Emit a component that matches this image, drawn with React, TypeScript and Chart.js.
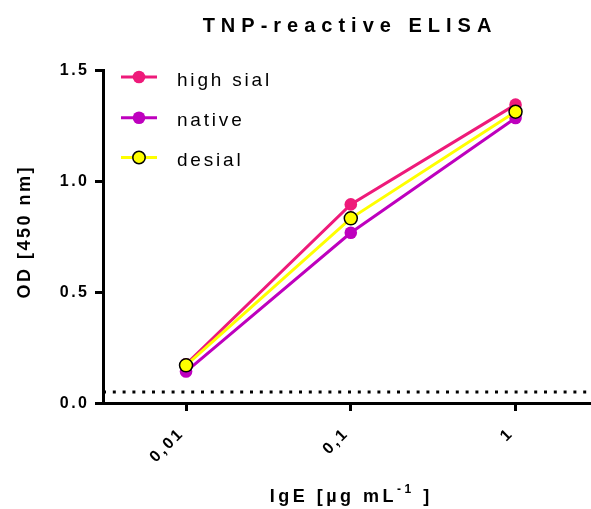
import React, { useEffect, useRef } from "react";
import { Chart, registerables } from "chart.js";

Chart.register(...registerables);

// IgE concentrations (µg/mL) and their axis labels
const X_VALUES = [0.01, 0.1, 1];
const X_TICK_LABELS = ["0,01", "0,1", "1"];

// OD ticks
const Y_TICKS = [0, 0.5, 1.0, 1.5];
const Y_TICK_LABELS = ["0.0", "0.5", "1.0", "1.5"];

// OD at 450 nm per preparation
const HIGH_SIAL = [0.175, 0.896, 1.346];
const NATIVE = [0.142, 0.768, 1.286];
const DESIAL = [0.17, 0.833, 1.314];

// background cut-off
const BASELINE = 0.05;

const X_MIN = Math.pow(10, -2.504);
const X_MAX = Math.pow(10, 0.458);

const PINK = "#EE1A7A";
const PURPLE = "#BE00BE";
const YELLOW = "#FFFF00";
const FONT = '"Liberation Sans", Arial, Helvetica, sans-serif';

function spaced(
  ctx: CanvasRenderingContext2D,
  text: string,
  x: number,
  y: number,
  align: "left" | "center" | "right",
  ls: number
) {
  (ctx as any).letterSpacing = ls + "px";
  const w = ctx.measureText(text).width - ls;
  const left = align === "center" ? x - w / 2 : align === "right" ? x - w : x;
  ctx.textAlign = "left";
  ctx.fillText(text, left, y);
  return w + ls;
}

const LEGEND = [
  { label: "high sial", color: PINK, fill: PINK, border: PINK, radius: 6.3, bw: 0 },
  { label: "native", color: PURPLE, fill: PURPLE, border: PURPLE, radius: 6.3, bw: 0 },
  { label: "desial", color: YELLOW, fill: YELLOW, border: "#000", radius: 6.2, bw: 1.5 },
];

const textLayer = {
  id: "textLayer",
  afterDraw(chart: any) {
    const ctx: CanvasRenderingContext2D = chart.ctx;
    const xs = chart.scales.x;
    const ys = chart.scales.y;
    const area = chart.chartArea;
    ctx.save();
    ctx.fillStyle = "#000";

    // title
    ctx.font = `bold 20px ${FONT}`;
    ctx.textBaseline = "alphabetic";
    spaced(ctx, "TNP-reactive ELISA", (area.left + area.right) / 2, 31.7, "center", 6);

    // y tick labels
    ctx.font = `bold 16px ${FONT}`;
    ctx.textBaseline = "middle";
    Y_TICKS.forEach((v, i) => {
      spaced(ctx, Y_TICK_LABELS[i], 87, ys.getPixelForValue(v) + 0.5, "right", 2.5);
    });

    // x tick labels, rotated
    X_VALUES.forEach((v, i) => {
      const px = xs.getPixelForValue(v);
      ctx.save();
      ctx.translate(px - 6, 432.5);
      ctx.rotate(-Math.PI / 4);
      spaced(ctx, X_TICK_LABELS[i], 0, 0, "right", 2.5);
      ctx.restore();
    });

    // y axis title
    ctx.save();
    ctx.font = `bold 18px ${FONT}`;
    ctx.translate(25, 233);
    ctx.rotate(-Math.PI / 2);
    ctx.textBaseline = "middle";
    spaced(ctx, "OD [450 nm]", 0, 0, "center", 2.5);
    ctx.restore();

    // x axis title with superscript
    ctx.textBaseline = "alphabetic";
    const big = `bold 18px ${FONT}`;
    const small = `bold 12px ${FONT}`;
    const ls = 3.5;
    (ctx as any).letterSpacing = ls + "px";
    ctx.font = big;
    const w1 = ctx.measureText("IgE [µg mL").width;
    const w3 = ctx.measureText(" ]").width - ls;
    ctx.font = small;
    const w2 = ctx.measureText("-1").width;
    let x0 = 349.5 - (w1 + w2 + w3) / 2;
    const base = 501.7;
    ctx.textAlign = "left";
    ctx.font = big;
    ctx.fillText("IgE [µg mL", x0, base);
    x0 += w1;
    ctx.font = small;
    ctx.fillText("-1", x0, base - 9);
    x0 += w2;
    ctx.font = big;
    ctx.fillText(" ]", x0, base);

    // legend
    const rows = [77, 117.8, 157.5];
    ctx.font = `19px ${FONT}`;
    LEGEND.forEach((item, i) => {
      const y = rows[i];
      ctx.strokeStyle = item.color;
      ctx.lineWidth = 3;
      ctx.beginPath();
      ctx.moveTo(121, y);
      ctx.lineTo(157, y);
      ctx.stroke();
      ctx.beginPath();
      ctx.arc(139, y, item.radius, 0, Math.PI * 2);
      ctx.fillStyle = item.fill;
      ctx.fill();
      if (item.bw > 0) {
        ctx.lineWidth = item.bw;
        ctx.strokeStyle = item.border;
        ctx.stroke();
      }
      ctx.fillStyle = "#000";
      ctx.textBaseline = "alphabetic";
      spaced(ctx, item.label, 177, y + 8.5, "left", 2.8);
    });

    ctx.restore();
  },
};

const zeroPadding = (scale: any) => {
  scale.paddingLeft = 0;
  scale.paddingRight = 0;
  scale.paddingTop = 0;
  scale.paddingBottom = 0;
};

export default function App() {
  const ref = useRef<HTMLCanvasElement | null>(null);

  useEffect(() => {
    if (!ref.current) return;
    const toXY = (ys: number[]) => X_VALUES.map((x, i) => ({ x, y: ys[i] }));

    const chart = new Chart(ref.current, {
      type: "line",
      data: {
        datasets: [
          {
            label: "high sial",
            data: toXY(HIGH_SIAL),
            borderColor: PINK,
            backgroundColor: PINK,
            pointBackgroundColor: PINK,
            pointBorderColor: PINK,
            pointBorderWidth: 0,
            pointRadius: 6.3,
            borderWidth: 3,
            tension: 0,
            order: 3,
          },
          {
            label: "native",
            data: toXY(NATIVE),
            borderColor: PURPLE,
            backgroundColor: PURPLE,
            pointBackgroundColor: PURPLE,
            pointBorderColor: PURPLE,
            pointBorderWidth: 0,
            pointRadius: 6.3,
            borderWidth: 3,
            tension: 0,
            order: 2,
          },
          {
            label: "desial",
            data: toXY(DESIAL),
            borderColor: YELLOW,
            backgroundColor: YELLOW,
            pointBackgroundColor: YELLOW,
            pointBorderColor: "#000",
            pointBorderWidth: 1.5,
            pointRadius: 6.5,
            borderWidth: 3,
            tension: 0,
            order: 1,
          },
          {
            label: "cut-off",
            data: [
              { x: X_MIN, y: BASELINE },
              { x: X_MAX, y: BASELINE },
            ],
            borderColor: "#000",
            borderWidth: 3,
            borderDash: [3, 6.8],
            pointRadius: 0,
            order: 4,
          },
        ],
      },
      options: {
        responsive: false,
        animation: false,
        events: [],
        layout: { autoPadding: false, padding: { top: 70.5, right: 0, left: 0, bottom: 0 } },
        plugins: {
          legend: { display: false },
          title: { display: false },
          tooltip: { enabled: false },
        },
        scales: {
          x: {
            type: "logarithmic",
            min: X_MIN,
            max: X_MAX,
            afterBuildTicks: (scale: any) => {
              scale.ticks = X_VALUES.map((value) => ({ value }));
            },
            afterFit: (scale: any) => {
              scale.height = 106;
              zeroPadding(scale);
            },
            ticks: { display: false },
            grid: {
              drawOnChartArea: false,
              drawTicks: true,
              tickLength: 8,
              tickWidth: 3,
              lineWidth: 3,
              tickColor: "#000",
              color: "#000",
            },
            border: { display: true, width: 3, color: "#000" },
          },
          y: {
            type: "linear",
            min: 0,
            max: 1.5,
            afterBuildTicks: (scale: any) => {
              scale.ticks = Y_TICKS.map((value) => ({ value }));
            },
            afterFit: (scale: any) => {
              scale.width = 103;
              zeroPadding(scale);
            },
            ticks: { display: false },
            grid: {
              drawOnChartArea: false,
              drawTicks: true,
              tickLength: 8,
              tickWidth: 3,
              lineWidth: 3,
              tickColor: "#000",
              color: "#000",
            },
            border: { display: true, width: 3, color: "#000" },
          },
        },
      },
      plugins: [textLayer],
    });

    return () => chart.destroy();
  }, []);

  return (
    <div style={{ position: "fixed", left: 0, top: 0, width: 591, height: 509, background: "#fff" }}>
      <canvas ref={ref} width={591} height={509} style={{ width: 591, height: 509, display: "block" }} />
    </div>
  );
}
